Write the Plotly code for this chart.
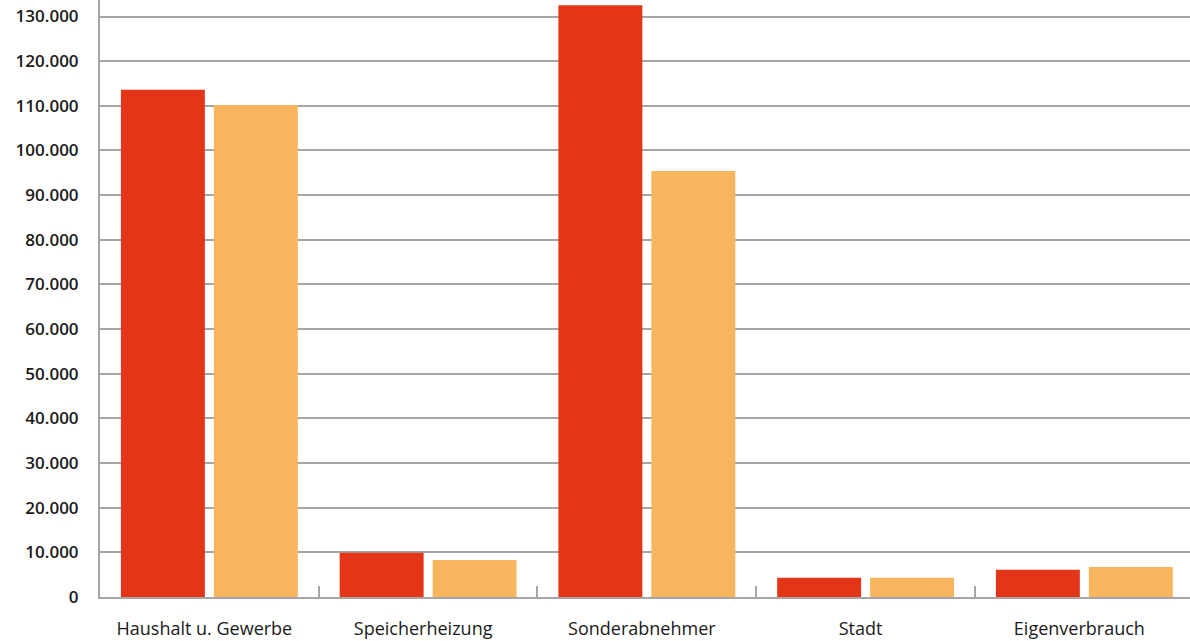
import plotly.graph_objects as go

categories = ["Haushalt u. Gewerbe", "Speicherheizung", "Sonderabnehmer", "Stadt", "Eigenverbrauch"]
series_a = [113600, 9900, 132500, 4300, 6100]
series_b = [110200, 8300, 95400, 4300, 6700]
y_ticks = list(range(0, 130001, 10000))

fig = go.Figure()
fig.add_trace(go.Bar(x=categories, y=series_a, marker=dict(color="#E33517", line=dict(width=0)), name="A"))
fig.add_trace(go.Bar(x=categories, y=series_b, marker=dict(color="#F7B55D", line=dict(width=0)), name="B"))

fig.update_layout(
    width=1190, height=641, autosize=False,
    margin=dict(l=100, r=0, t=0, b=44),
    paper_bgcolor="white", plot_bgcolor="white",
    barmode="group", bargap=0.15, bargroupgap=0.097,
    showlegend=False,
    separators=",.",
    font=dict(family="Open Sans", color="#1a1a1a"),
)
fig.update_xaxes(
    type="category", range=[-0.5, 4.483],
    showgrid=False, showline=True, linecolor="#a6a6a6", linewidth=2,
    ticks="inside", tickson="boundaries", ticklen=11, tickwidth=2, tickcolor="#a6a6a6",
    tickfont=dict(size=18, color="#1a1a1a"), ticklabelstandoff=14, ticklabelshift=-5,
)
fig.update_yaxes(
    range=[0, 133700], tickvals=y_ticks, tickformat=",d",
    showgrid=True, gridcolor="#a6a6a6", gridwidth=2,
    showline=True, linecolor="#a6a6a6", linewidth=2,
    zeroline=False, ticks="outside", ticklen=16, tickcolor="rgba(0,0,0,0)",
    tickfont=dict(size=17, color="#1a1a1a", weight=600),
)
fig.write_html("out.html", config={"displayModeBar": False},
               post_script="document.body.style.margin='0';document.body.style.overflow='hidden';")
